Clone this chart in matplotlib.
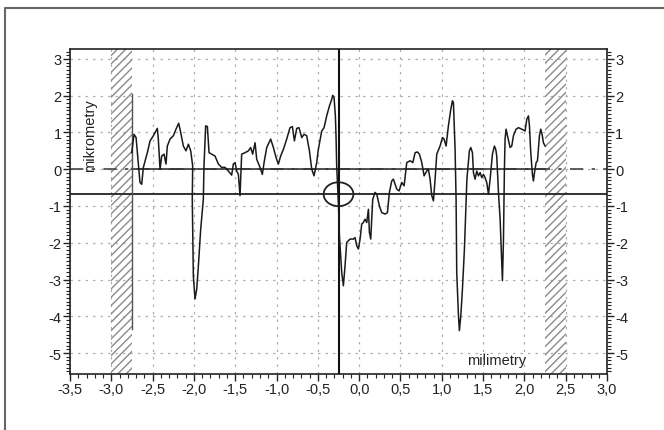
import numpy as np
import matplotlib
matplotlib.use("Agg")
import matplotlib.pyplot as plt
from matplotlib.lines import Line2D
from matplotlib.patches import Ellipse
from matplotlib.ticker import MultipleLocator, FuncFormatter

plt.rcParams['font.family'] = ['Liberation Sans', 'DejaVu Sans']
plt.rcParams['axes.unicode_minus'] = False

# profil povrchu (mm, um)
prof_x = [-2.753, -2.725, -2.70, -2.653, -2.632, -2.612, -2.564, -2.531, -2.491, -2.443,
          -2.431, -2.41, -2.39, -2.362, -2.338, -2.322, -2.289, -2.249, -2.217, -2.184,
          -2.16, -2.128, -2.096, -2.067, -2.039, -2.015, -2.02, -2.007, -1.987, -1.966,
          -1.946, -1.918, -1.886, -1.878, -1.858, -1.837, -1.817, -1.785, -1.745, -1.704,
          -1.664, -1.623, -1.583, -1.543, -1.523, -1.502, -1.482, -1.462, -1.442, -1.422,
          -1.381, -1.341, -1.313, -1.289, -1.26, -1.24, -1.20, -1.172, -1.151, -1.119,
          -1.071, -1.038, -1.006, -0.978, -0.95, -0.917, -0.877, -0.837, -0.808, -0.784,
          -0.756, -0.728, -0.695, -0.667, -0.635, -0.602, -0.574, -0.546, -0.514, -0.494,
          -0.453, -0.425, -0.393, -0.36, -0.332, -0.32, -0.304, -0.288, -0.28, -0.272,
          -0.25, -0.239, -0.211, -0.191, -0.171, -0.151, -0.11, -0.07, -0.05, -0.029,
          -0.009, 0.011, 0.031, 0.051, 0.071, 0.092, 0.112, 0.124, 0.14, 0.152,
          0.164, 0.192, 0.213, 0.245, 0.273, 0.314, 0.342, 0.366, 0.394, 0.414,
          0.435, 0.455, 0.483, 0.515, 0.544, 0.576, 0.616, 0.649, 0.677, 0.705,
          0.729, 0.758, 0.786, 0.818, 0.838, 0.858, 0.879, 0.899, 0.919, 0.939,
          0.979, 1.008, 1.028, 1.052, 1.08, 1.109, 1.129, 1.141, 1.161, 1.173,
          1.181, 1.201, 1.213, 1.23, 1.25, 1.274, 1.29, 1.304, 1.334, 1.351,
          1.371, 1.383, 1.403, 1.423, 1.444, 1.464, 1.484, 1.504, 1.524, 1.544,
          1.565, 1.585, 1.613, 1.637, 1.653, 1.665, 1.686, 1.706, 1.726, 1.734,
          1.746, 1.758, 1.766, 1.778, 1.795, 1.827, 1.847, 1.867, 1.90, 1.928,
          1.968, 2.008, 2.029, 2.049, 2.061, 2.077, 2.097, 2.109, 2.122, 2.142,
          2.158, 2.182, 2.198, 2.214, 2.23, 2.251]
prof_y = [0.45, 0.95, 0.86, -0.36, -0.41, 0.05, 0.45, 0.77, 0.91, 1.11,
          0.82, 0.0, 0.36, 0.41, 0.14, 0.63, 0.82, 0.91, 1.09, 1.25,
          1.0, 0.63, 0.5, 0.68, 0.5, 0.09, -0.82, -2.90, -3.53, -3.26,
          -2.63, -1.63, -0.82, 0.09, 1.18, 1.16, 0.45, 0.41, 0.36, 0.14,
          0.05, 0.05, -0.05, -0.16, 0.14, 0.18, -0.05, -0.14, -0.72, 0.41,
          0.45, 0.5, 0.59, 0.41, 0.72, 0.27, 0.05, -0.14, 0.18, 0.59,
          0.82, 0.59, 0.32, 0.14, 0.36, 0.54, 0.82, 1.13, 1.16, 0.77,
          1.11, 1.13, 0.86, 0.95, 0.91, 0.5, 0.0, -0.18, 0.18, 0.54,
          1.04, 1.13, 1.45, 1.72, 1.90, 2.01, 1.95, 1.45, 0.91, 0.09,
          -1.0, -1.81, -2.81, -3.17, -2.63, -1.99, -1.90, -1.90, -1.86, -2.08,
          -2.17, -1.90, -1.49, -1.45, -1.36, -1.45, -1.09, -1.72, -1.90, -1.36,
          -0.82, -0.63, -0.68, -1.0, -1.18, -1.22, -1.18, -0.63, -0.32, -0.27,
          -0.41, -0.54, -0.59, -0.36, -0.45, 0.18, 0.23, 0.18, 0.45, 0.47,
          0.41, 0.18, -0.18, -0.05, 0.0, -0.27, -0.72, -0.86, -0.27, 0.41,
          0.63, 0.86, 0.82, 0.63, 1.18, 1.63, 1.86, 1.81, 0.54, -0.82,
          -2.81, -3.94, -4.39, -3.99, -3.26, -2.17, -1.2, -0.27, 0.5, 0.59,
          0.45, -0.09, -0.27, -0.05, -0.18, -0.09, -0.23, -0.14, -0.23, -0.36,
          -0.68, -0.27, 0.41, 0.63, 0.54, 0.36, -0.63, -1.36, -2.54, -3.03,
          -1.99, 0.0, 0.82, 1.09, 0.91, 0.59, 0.63, 0.91, 1.09, 1.13,
          1.09, 1.04, 1.36, 1.45, 1.18, 0.45, -0.14, -0.32, -0.09, 0.18,
          0.23, 0.91, 1.09, 0.95, 0.72, 0.63]

# zacatek mereni
start_x = -2.753
start_y = [-4.35, 2.05]

# vyloucene oblasti
excl_left = (-3.0, -2.75)
excl_right = (2.25, 2.5)

# kurzor
cursor_x = -0.25
cursor_y = -0.68

x_ticks = np.arange(-3.5, 3.01, 0.5)
y_ticks = np.arange(-5, 4, 1)

fig = plt.figure(figsize=(6.64, 4.31), dpi=100)
ax = fig.add_axes([0.1054, 0.1299, 0.8088, 0.7541])

ax.set_xlim(-3.5, 3.0)
ax.set_ylim(-5.57, 3.27)

for lo, hi in (excl_left, excl_right):
    ax.axvspan(lo, hi, facecolor='none', edgecolor='#8a8a8a', hatch='////', linewidth=0, zorder=1)

ax.axhline(0, color='#444444', lw=1.2, ls=(0, (8, 5, 2, 5)), zorder=2)
ax.plot([excl_left[1], excl_right[0]], [0, 0], color='#333333', lw=1.2, zorder=3)
ax.axhline(cursor_y, color='#222222', lw=1.3, zorder=3)
ax.axvline(cursor_x, color='#111111', lw=1.5, zorder=3)
ax.add_patch(Ellipse((cursor_x, cursor_y), 0.36, 0.65, facecolor='none',
                     edgecolor='#222222', lw=1.3, zorder=4))

ax.plot([start_x, start_x], start_y, color='#555555', lw=1.0, zorder=3)
ax.plot(prof_x, prof_y, color='#1a1a1a', lw=1.1, zorder=4)

ax.set_xticks(x_ticks)
ax.set_yticks(y_ticks)
ax.xaxis.set_minor_locator(MultipleLocator(0.1))
ax.yaxis.set_minor_locator(MultipleLocator(0.1))
ax.xaxis.set_major_formatter(FuncFormatter(lambda v, p: f"{v:.1f}".replace('.', ',')))
ax.yaxis.set_major_formatter(FuncFormatter(lambda v, p: f"{v:.0f}"))
ax.tick_params(axis='both', which='major', length=5, width=1, labelsize=10.5, colors='#222222', pad=1)
ax.tick_params(axis='both', which='minor', length=3, width=0.8, colors='#222222')
ax.tick_params(axis='y', which='both', left=True, right=True, labelleft=True, labelright=True)

ax.grid(True, which='major', color='#b0b0b0', ls=(0, (2, 4)), lw=0.9, zorder=0)
ax.set_axisbelow(True)
for sp in ax.spines.values():
    sp.set_linewidth(1.2)
    sp.set_color('#222222')

ax.text(-3.26, 0.95, 'mikrometry', rotation=90, ha='center', va='center', fontsize=10.5, color='#222222')
ax.text(1.66, -5.2, 'milimetry', ha='center', va='center', fontsize=10.5, color='#222222')

# ramecek vlevo a nahore
fig.add_artist(Line2D([0.0075, 0.0075, 1.0], [0.0, 0.980, 0.980], transform=fig.transFigure,
                      color='#666666', lw=1.5))

fig.savefig('out.png', dpi=100)
